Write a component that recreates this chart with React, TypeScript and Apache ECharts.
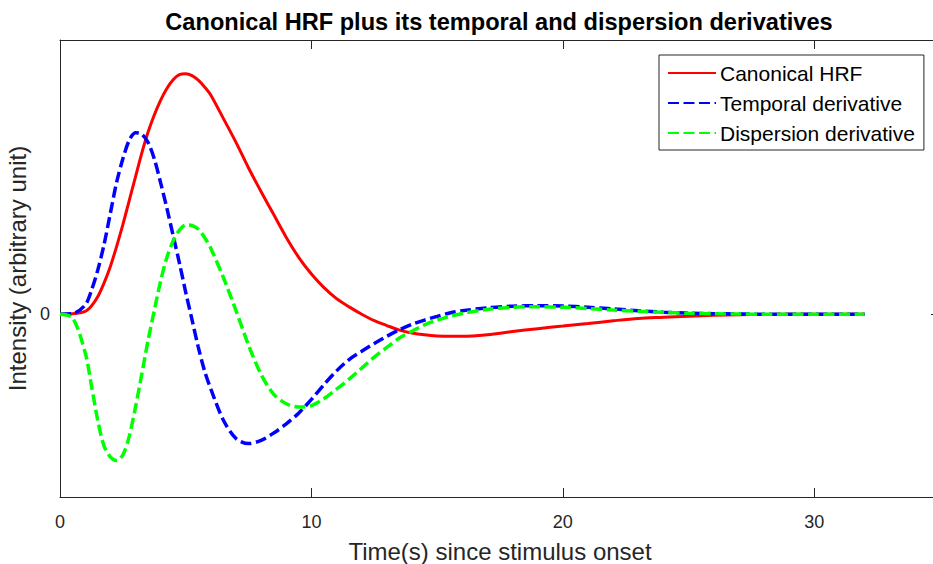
import React, { useEffect, useRef } from "react";
import * as echarts from "echarts";

const time = [
  0, 0.5, 1, 1.25, 1.5, 1.75, 2, 2.25, 2.5, 2.75, 3, 3.25, 3.5, 3.75, 4, 4.25, 4.5, 4.75, 5, 5.25, 5.5, 5.75, 6,
  6.5, 7, 7.5, 8, 8.5, 9, 9.5, 10, 10.5, 11, 11.5, 12, 12.5, 13, 13.5, 14, 14.5, 15, 15.5, 16,
  17, 18, 19, 20, 21, 22, 23, 24, 25, 26, 27, 28, 30, 32,
];

const canonicalHRF = [
  0, 0.0002, 0.0015,
  0.0045, 0.0095, 0.017, 0.026, 0.037, 0.049, 0.062, 0.075, 0.088, 0.0995, 0.109, 0.117, 0.1235, 0.1283, 0.131, 0.1315, 0.1305, 0.128, 0.1243, 0.1198,
  0.107, 0.094, 0.08, 0.067, 0.0545, 0.042, 0.031, 0.022, 0.0145, 0.0085, 0.004, 0.0, -0.0035, -0.0062, -0.0087, -0.0103, -0.0113, -0.0119, -0.0121, -0.0121,
  -0.0112, -0.0095, -0.0079, -0.0065, -0.0051, -0.0036, -0.0023, -0.0017, -0.0011, -0.0006, -0.0003, -0.0001,
  0, 0,
];

const temporalDerivative = [
  0, 0.0003, 0.005,
  0.013, 0.024, 0.038, 0.055, 0.072, 0.085, 0.095, 0.0993, 0.0985, 0.094, 0.085, 0.072, 0.058, 0.043, 0.028, 0.012, -0.003, -0.018, -0.031, -0.041,
  -0.058, -0.068, -0.0708, -0.069, -0.065, -0.06, -0.054, -0.0466, -0.0385, -0.031, -0.0248, -0.0203, -0.016, -0.0121, -0.0085, -0.0055, -0.0032, -0.0012, 0.0007, 0.0019,
  0.0035, 0.0044, 0.0046, 0.0045, 0.0038, 0.0029, 0.0019, 0.0011, 0.0006, 0.0003, 0.0001, 0,
  0, 0,
];

const dispersionDerivative = [
  0, -0.002, -0.021,
  -0.039, -0.058, -0.072, -0.078, -0.08, -0.077, -0.067, -0.051, -0.033, -0.0145, 0.002, 0.018, 0.031, 0.04, 0.046, 0.0488, 0.0485, 0.0465, 0.042, 0.036,
  0.02, 0.002, -0.017, -0.033, -0.0438, -0.049, -0.0508, -0.05, -0.0462, -0.041, -0.0355, -0.0295, -0.0235, -0.0182, -0.013, -0.0093, -0.0058, -0.0032, -0.0012, 0.0004,
  0.0026, 0.0038, 0.0041, 0.0038, 0.0031, 0.0023, 0.0016, 0.001, 0.0005, 0.0002, 0.0001, 0,
  0, 0,
];

const xTicks = [0, 10, 20, 30];
const yTicks = [0];

const seriesNames = ["Canonical HRF", "Temporal derivative", "Dispersion derivative"];

const FONT = "'Liberation Sans', Arial, Helvetica, sans-serif";
const AXIS = "#262626";

export default function App() {
  const ref = useRef<HTMLDivElement>(null);

  useEffect(() => {
    if (!ref.current) return;
    const chart = echarts.init(ref.current, undefined, { renderer: "svg" });
    const pairs = (arr: number[]) => time.map((t, i) => [t, arr[i]]);

    const xCommon = {
      type: "value",
      min: 0,
      max: 35,
      interval: 10,
      splitLine: { show: false },
      axisLine: { show: true, onZero: false, lineStyle: { color: AXIS, width: 1 } },
      axisTick: { show: true, inside: true, length: 9, lineStyle: { color: AXIS, width: 1 } },
    };
    const yCommon = {
      type: "value",
      min: -0.1,
      max: 0.15,
      interval: 0.05,
      splitLine: { show: false },
      axisLine: { show: true, onZero: false, lineStyle: { color: AXIS, width: 1 } },
      axisTick: { show: true, inside: true, length: 9, customValues: yTicks, lineStyle: { color: AXIS, width: 1 } },
    };

    chart.setOption({
      animation: false,
      backgroundColor: "#ffffff",
      title: {
        text: "Canonical HRF plus its temporal and dispersion derivatives",
        left: 494,
        top: 5,
        textAlign: "center",
        textStyle: { fontFamily: FONT, fontSize: 23.6, fontWeight: "bold", color: "#000" },
      },
      grid: { left: 60, top: 40, width: 880, height: 457, containLabel: false, outerBoundsMode: "none" },
      legend: {
        data: seriesNames,
        orient: "vertical",
        left: 659,
        top: 55,
        padding: [7, 9, 6, 8],
        itemWidth: 48,
        itemHeight: 14,
        itemGap: 8,
        borderColor: AXIS,
        borderWidth: 1,
        backgroundColor: "#ffffff",
        itemStyle: { opacity: 0 },
        textStyle: { fontFamily: FONT, fontSize: 21, color: "#000", lineHeight: 22, padding: [0, 0, 0, -1] },
      },
      xAxis: [
        {
          ...xCommon,
          position: "bottom",
          name: "Time(s) since stimulus onset",
          nameLocation: "middle",
          nameGap: 42,
          nameTextStyle: { fontFamily: FONT, fontSize: 24, color: AXIS },
          axisLabel: {
            show: true,
            margin: 16,
            fontFamily: FONT,
            fontSize: 18,
            color: AXIS,
            formatter: (v: number) => (xTicks.indexOf(v) >= 0 ? String(v) : ""),
          },
        },
        {
          ...xCommon,
          position: "top",
          axisLabel: { show: false },
        },
      ],
      yAxis: [
        {
          ...yCommon,
          position: "left",
          name: "Intensity (arbitrary unit)",
          nameLocation: "middle",
          nameGap: 27,
          nameTextStyle: { fontFamily: FONT, fontSize: 24, color: AXIS },
          axisLabel: {
            show: true,
            margin: 10,
            fontFamily: FONT,
            fontSize: 18,
            color: AXIS,
            formatter: (v: number) => (Math.abs(v) < 1e-9 ? "0" : ""),
          },
        },
        {
          ...yCommon,
          position: "right",
          axisLabel: { show: false },
        },
      ],
      series: [
        {
          name: seriesNames[0],
          type: "line",
          data: pairs(canonicalHRF),
          symbol: "none",
          smooth: 0.3,
          lineStyle: { color: "#ff0000", width: 3, type: "solid" },
          itemStyle: { color: "#ff0000" },
          z: 3,
        },
        {
          name: seriesNames[1],
          type: "line",
          data: pairs(temporalDerivative),
          symbol: "none",
          smooth: 0.3,
          lineStyle: { color: "#0000ff", width: 3.5, type: [11, 4.5] },
          itemStyle: { color: "#0000ff" },
          z: 4,
        },
        {
          name: seriesNames[2],
          type: "line",
          data: pairs(dispersionDerivative),
          symbol: "none",
          smooth: 0.3,
          lineStyle: { color: "#00ff00", width: 3.5, type: [11, 4.5] },
          itemStyle: { color: "#00ff00" },
          z: 5,
        },
      ],
    });

    return () => chart.dispose();
  }, []);

  return (
    <div
      ref={ref}
      style={{ position: "fixed", left: 0, top: 0, width: 933, height: 564, background: "#fff" }}
    />
  );
}
